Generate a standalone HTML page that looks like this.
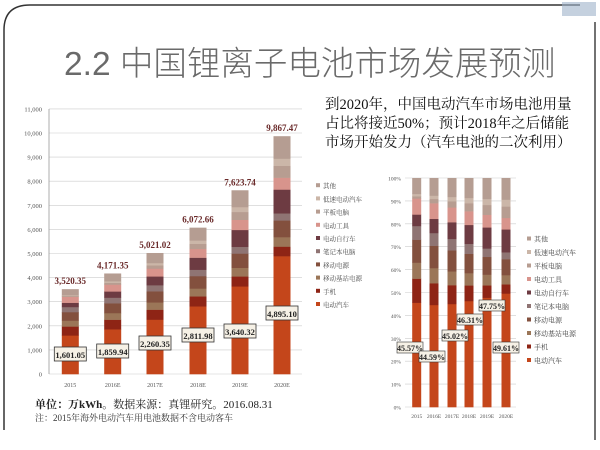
<!DOCTYPE html>
<html><head><meta charset="utf-8">
<style>
html,body{margin:0;padding:0;background:#fff;}
body{width:600px;height:450px;overflow:hidden;position:relative;font-family:"Liberation Serif","Noto Serif CJK SC",serif;}
</style></head><body>
<svg id="s" width="600" height="450" xmlns="http://www.w3.org/2000/svg" style="position:absolute;left:0;top:0">
<path d="M4,430 L4,30 Q4,5 30,5 L580,5" fill="none" stroke="#333" stroke-width="1.5"/>
<line x1="595" y1="22" x2="595" y2="440" stroke="#444" stroke-width="1.5"/>
<rect x="562" y="2" width="34" height="14" fill="#9fb3c9" opacity="0.6"/>
<text x="64" y="75" font-family="Liberation Sans,Noto Sans CJK SC,sans-serif" font-size="33.5" fill="#6a6a6a" font-weight="300">2.2 中国锂离子电池市场发展预测</text>
<g font-family="Liberation Serif,Noto Serif CJK SC,serif" font-size="14.5" fill="#111">
<text x="325" y="109">到2020年，中国电动汽车市场电池用量</text>
<text x="325" y="128">占比将接近50%；预计2018年之后储能</text>
<text x="325" y="147">市场开始发力（汽车电池的二次利用）</text>
</g>
<text x="35" y="408" font-size="11" fill="#222"><tspan font-weight="bold">单位：万kWh</tspan>。数据来源：真锂研究。2016.08.31</text>
<text x="35" y="421" font-size="9" fill="#333">注：2015年海外电动汽车用电池数据不含电动客车</text>
<g id="L"></g><g id="R"></g>
</svg>
<script>
var NS="http://www.w3.org/2000/svg";
function el(p,t,a,txt){var e=document.createElementNS(NS,t);for(var k in a)e.setAttribute(k,a[k]);if(txt!=null)e.textContent=txt;p.appendChild(e);return e;}
var cols=["#c4461b","#8e2415","#9b7658","#83503e","#8f7473","#6d3b42","#d8948c","#b79d91","#cbb6a8","#b59d92"];
var names=["电动汽车","手机","移动基站电源","移动电源","笔记本电脑","电动自行车","电动工具","平板电脑","低速电动汽车","其他"];
var s15=[.456,.105,.07,.10,.06,.05,.07,.01,.01,.069];
var s20=[.496,.04,.04,.07,.03,.10,.05,.05,.03,.094];
var evp=[.4557,.4459,.4502,.4631,.4775,.4961];
var tot=[3520.35,4171.35,5021.02,6072.66,7623.74,9867.47];
var evv=["1,601.05","1,859.94","2,260.35","2,811.98","3,640.32","4,895.10"];
var tl=["3,520.35","4,171.35","5,021.02","6,072.66","7,623.74","9,867.47"];
var yrs=["2015","2016E","2017E","2018E","2019E","2020E"];
function shares(i){var t=i/5,a=[];for(var k=0;k<10;k++)a.push(s15[k]*(1-t)+s20[k]*t);a[0]=evp[i];var r=0;for(k=1;k<10;k++)r+=a[k];for(k=1;k<10;k++)a[k]=a[k]*(1-evp[i])/r;return a;}
var L=document.getElementById("L");
var y0=374,pk=24.1;
for(var g=0;g<=11;g++){var y=y0-g*pk;el(L,"line",{x1:49,x2:302,y1:y,y2:y,stroke:"#ccc","stroke-width":0.6});
el(L,"text",{x:42,y:y+2.5,"font-size":6.5,"text-anchor":"end",fill:"#555"},g==0?"0":(g*1000).toLocaleString("en-US"));}
el(L,"line",{x1:49,x2:49,y1:109,y2:374,stroke:"#999","stroke-width":0.8});
var cx=[70.3,112.7,155,198,240,282];
for(var i=0;i<6;i++){var a=shares(i),y=y0;for(var k=0;k<10;k++){var h=a[k]*tot[i]*pk/1000;el(L,"rect",{x:cx[i]-8.5,y:y-h,width:17,height:h+0.3,fill:cols[k]});y-=h;}
el(L,"text",{x:cx[i],y:y-5,"font-size":9,"font-weight":"bold","text-anchor":"middle",fill:"#6a2a2a"},tl[i]);
el(L,"text",{x:cx[i],y:387,"font-size":6,"text-anchor":"middle",fill:"#555"},yrs[i]);}
var by=[355,352,344,336,332,314];
for(i=0;i<6;i++){el(L,"rect",{x:cx[i]-16,y:by[i]-8,width:32,height:14,fill:"#f6f1e6",stroke:"#333","stroke-width":0.8});
el(L,"text",{x:cx[i],y:by[i]+3,"font-size":8.5,"font-weight":"bold","text-anchor":"middle",fill:"#222"},evv[i]);}
for(k=0;k<10;k++){var ly=307-k*13.2;el(L,"rect",{x:316,y:ly-5,width:4,height:4,fill:cols[k]});el(L,"text",{x:323,y:ly,"font-size":6.5,fill:"#444"},names[k]);}
var R=document.getElementById("R");
var r0=407,rh=229;
for(g=0;g<=10;g++){y=r0-g*rh/10;el(R,"line",{x1:405,x2:516,y1:y,y2:y,stroke:"#ccc","stroke-width":0.6});
el(R,"text",{x:401,y:y+2.5,"font-size":5.5,"text-anchor":"end",fill:"#555"},(g*10)+"%");}
var rx=[416.7,434,452,469,487,506];
for(i=0;i<6;i++){a=shares(i);y=r0;for(k=0;k<10;k++){h=a[k]*rh;el(R,"rect",{x:rx[i]-4.5,y:y-h,width:9,height:h+0.3,fill:cols[k]});y-=h;}}
var rl=[[410,349,"45.57%"],[432,358,"44.59%"],[455,337,"45.02%"],[470,321,"46.31%"],[492,307,"47.75%"],[506,349,"49.61%"]];
for(i=0;i<6;i++){el(R,"rect",{x:rl[i][0]-13,y:rl[i][1]-7,width:26,height:11,fill:"#f6f1e6",stroke:"#333","stroke-width":0.6});
el(R,"text",{x:rl[i][0],y:rl[i][1]+2,"font-size":8,"font-weight":"bold","text-anchor":"middle",fill:"#222"},rl[i][2]);}
for(i=0;i<6;i++)el(R,"text",{x:rx[i],y:418,"font-size":5.5,"text-anchor":"middle",fill:"#555"},yrs[i]);
for(k=0;k<10;k++){ly=363-k*13.5;el(R,"rect",{x:527,y:ly-5,width:4,height:4,fill:cols[k]});el(R,"text",{x:534,y:ly,"font-size":7,fill:"#444"},names[k]);}
</script>
</body></html>
